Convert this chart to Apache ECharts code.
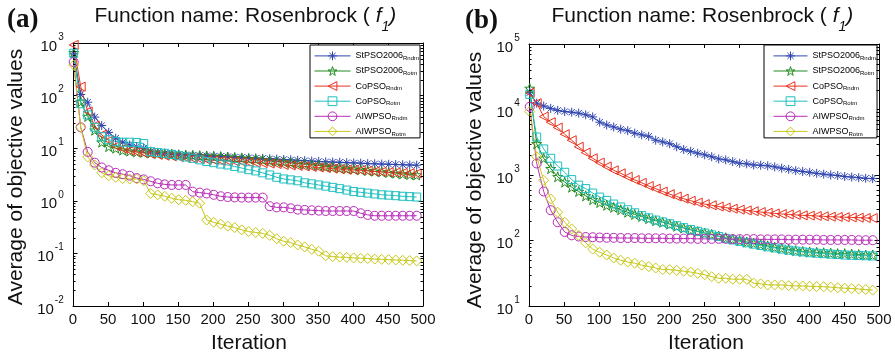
<!DOCTYPE html>
<html><head><meta charset="utf-8">
<script src="https://cdn.jsdelivr.net/npm/echarts@6/dist/echarts.min.js"></script>
<style>html,body{margin:0;padding:0;background:#fff}#c{width:895px;height:355px}</style>
</head><body><div id="c"></div>
<script>
// ---------- data ----------
const iterations = [1,11,21,31,41,51,61,71,81,91,101,111,121,131,141,151,161,171,181,191,201,211,221,231,241,251,261,271,281,291,301,311,321,331,341,351,361,371,381,391,401,411,421,431,441,451,461,471,481,491];
const seriesNames = ['StPSO2006 Rndm','StPSO2006 Rotm','CoPSO Rndm','CoPSO Rotm','AIWPSO Rndm','AIWPSO Rotm'];
const xTickValues = [0,50,100,150,200,250,300,350,400,450,500];

// panel (a)
const a_StPSO2006_Rndm = [620,105,75,39,27,20,15.5,13,11.5,10.7,10,8.8,8.3,8.0,7.8,7.6,7.5,7.4,7.3,7.2,7.1,7.0,6.9,6.8,6.7,6.6,6.5,6.4,6.3,6.2,6.1,6.0,5.9,5.8,5.7,5.6,5.5,5.45,5.4,5.3,5.25,5.2,5.1,5.05,5.0,4.95,4.9,4.85,4.8,4.75];
const a_StPSO2006_Rotm = [650,76,40,22,13,10.7,10,9.2,8.8,8.5,8.3,8.1,8.0,7.8,7.7,7.5,7.4,7.3,7.2,7.1,7.0,6.9,6.8,6.6,6.5,6.3,6.2,6.0,5.8,5.6,5.5,5.3,5.1,5.0,4.8,4.7,4.5,4.4,4.2,4.1,4.0,3.9,3.75,3.65,3.55,3.45,3.35,3.25,3.15,3.1];
const a_CoPSO_Rndm = [920,148,50,27,18,14,11,9.8,9.0,8.5,8.1,7.8,7.5,7.2,7.0,6.8,6.6,6.4,6.2,6.0,5.9,5.8,5.7,5.6,5.5,5.4,5.3,5.2,5.1,5.0,4.8,4.7,4.6,4.5,4.4,4.3,4.2,4.1,4.0,3.9,3.85,3.8,3.7,3.6,3.55,3.5,3.45,3.4,3.35,3.3];
const a_CoPSO_Rotm = [640,70,43,25,16.5,14.5,13.5,13,13,12.8,12.3,8.6,8.3,8.0,7.6,7.2,6.8,6.4,6.0,5.6,5.3,5.0,4.8,4.5,4.2,3.9,3.7,3.4,3.1,2.8,2.6,2.5,2.4,2.2,2.1,2.0,1.9,1.8,1.7,1.6,1.5,1.45,1.4,1.35,1.3,1.28,1.25,1.22,1.2,1.18];
const a_AIWPSO_Rndm = [435,25,8.5,5.3,4.3,3.8,3.4,3.2,3.0,2.7,2.55,2.35,2.15,2.05,2.0,2.0,2.0,1.49,1.43,1.38,1.3,1.22,1.18,1.16,1.15,1.15,1.15,1.15,0.79,0.75,0.75,0.72,0.68,0.67,0.66,0.65,0.64,0.64,0.64,0.64,0.64,0.58,0.54,0.52,0.52,0.52,0.52,0.52,0.52,0.52];
const a_AIWPSO_Rotm = [380,25,6.8,4.8,3.4,3.0,2.8,2.65,2.6,2.6,2.4,1.38,1.3,1.22,1.12,1.05,1.02,0.96,0.9,0.43,0.39,0.36,0.33,0.31,0.28,0.26,0.25,0.24,0.22,0.19,0.17,0.16,0.145,0.133,0.12,0.11,0.09,0.087,0.085,0.084,0.082,0.081,0.08,0.078,0.077,0.076,0.075,0.074,0.073,0.072];

// panel (b)
const b_StPSO2006_Rndm = [18000,12500,11300,10400,9700,9300,9100,8800,8300,7700,6400,5800,5400,5000,4750,4350,4100,3900,3400,3200,3000,2700,2450,2300,2150,2030,1900,1760,1700,1600,1510,1480,1420,1410,1380,1330,1270,1220,1170,1130,1100,1060,1030,1000,980,950,930,910,890,880];
const b_StPSO2006_Rotm = [21000,3000,1800,1250,940,780,650,560,480,420,380,345,320,295,270,250,232,215,200,190,178,165,155,145,137,130,124,117,110,105,100,95,91,87,83,79,76,73,70,68,67,66,65,64,63,63,62,61,60,60];
const b_CoPSO_Rndm = [18000,12500,7800,6400,5300,4200,3400,2700,2200,1800,1550,1350,1180,1060,940,840,760,680,620,560,510,470,435,405,380,360,345,330,318,306,296,288,280,272,265,259,254,250,246,242,240,237,234,231,229,227,225,223,221,220];
const b_CoPSO_Rotm = [17000,3800,2500,1800,1370,1100,850,700,620,530,460,410,360,325,295,265,240,222,205,192,180,168,157,147,138,130,122,115,108,102,97,92,88,84,80,77,74,71,69,67,65,64,63,62,61,60,59.5,59,58.5,58];
const b_AIWPSO_Rndm = [11000,1500,560,290,190,135,120,115,113,112,111,110,110,109,109,109,108,108,108,108,107,107,107,107,106,106,106,106,106,105,105,105,105,104,104,104,104,103,103,103,103,103,102,102,102,102,102,101,101,101];
const b_AIWPSO_Rotm = [9300,1900,830,430,270,190,150,120,92,74,66,60,54,50,47,45,42,40,38,36,36,35,34,33,31.5,30,28,26.5,26.5,25.6,25.6,25.6,22.3,21.8,21,21,21,20.5,20.3,20.2,20,19.8,19.7,19.4,19,18.7,18.5,18.2,17.8,17.5];

const panelA = [a_StPSO2006_Rndm, a_StPSO2006_Rotm, a_CoPSO_Rndm, a_CoPSO_Rotm, a_AIWPSO_Rndm, a_AIWPSO_Rotm];
const panelB = [b_StPSO2006_Rndm, b_StPSO2006_Rotm, b_CoPSO_Rndm, b_CoPSO_Rotm, b_AIWPSO_Rndm, b_AIWPSO_Rotm];

// ---------- styles ----------
const FONT = "'Liberation Sans', Arial, Helvetica, sans-serif";
const styles = [
  {color:'#2f45b0', symbol:'path://M0,-10L0,10M-10,0L10,0M-7,-7L7,7M-7,7L7,-7', size:9},
  {color:'#1f8a1f', symbol:'path://M0,-10L2.245,-3.09L9.511,-3.09L3.633,1.18L5.878,8.09L0,3.82L-5.878,8.09L-3.633,1.18L-9.511,-3.09L-2.245,-3.09Z', size:10},
  {color:'#e8321e', symbol:'path://M-9,0L9,-10L9,10Z', size:9},
  {color:'#1fbfbf', symbol:'path://M-10,-10L10,-10L10,10L-10,10Z', size:8},
  {color:'#b82cb8', symbol:'circle', size:9},
  {color:'#c8c81a', symbol:'path://M0,-10L10,0L0,10L-10,0Z', size:10}
];

function makeSeries(values, idx, xi, yi) {
  const st = styles[idx];
  return {
    type:'line', name: seriesNames[idx], xAxisIndex:xi, yAxisIndex:yi,
    data: iterations.map((it, i) => [it, values[i]]),
    symbol: st.symbol, symbolSize: st.size, showSymbol:true,
    lineStyle:{color:st.color, width:1},
    itemStyle:{color:'rgba(0,0,0,0)', borderColor:st.color, borderWidth:1},
    emphasis:{disabled:true}, animation:false, z:2
  };
}

function minorValues(lo, hi) {
  const out = [];
  for (let k = lo; k < hi; k++) for (let m = 2; m <= 9; m++) out.push([0, m * Math.pow(10, k)]);
  return out;
}
function minorTickSeries(xi, yi, lo, hi) {
  return {
    type:'custom', name:'minorTicks', xAxisIndex:xi, yAxisIndex:yi, silent:true, clip:false, z:5,
    data: minorValues(lo, hi), animation:false,
    renderItem: function (params, api) {
      const v = api.value(1);
      const p0 = api.coord([0, v]); const p1 = api.coord([500, v]);
      const s = {stroke:'#000', lineWidth:1};
      return {type:'group', children:[
        {type:'line', shape:{x1:p0[0], y1:Math.round(p0[1])+0.5, x2:p0[0]+2.5, y2:Math.round(p0[1])+0.5}, style:s},
        {type:'line', shape:{x1:p1[0]-2.5, y1:Math.round(p1[1])+0.5, x2:p1[0], y2:Math.round(p1[1])+0.5}, style:s}
      ]};
    }
  };
}

function xAxisDef(grid, pos) {
  return {
    type:'value', gridIndex:grid, position:pos, min:0, max:500, interval:50,
    axisLine:{show:true, onZero:false, lineStyle:{color:'#000', width:1}},
    axisTick:{show:true, inside:true, length:4, lineStyle:{color:'#000'}},
    axisLabel:{show: pos === 'bottom', fontSize:15, color:'#111', fontFamily:FONT, margin:6,
      customValues: xTickValues},
    splitLine:{show:false}
  };
}
function yAxisDef(grid, pos, min, max) {
  return {
    type:'log', logBase:10, gridIndex:grid, position:pos, min:min, max:max, splitNumber:5,
    axisLine:{show:true, onZero:false, lineStyle:{color:'#000', width:1}},
    axisTick:{show:true, inside:true, length:4.5, lineStyle:{color:'#000'}},
    axisLabel:{show: pos === 'left', margin:9, color:'#111', fontFamily:FONT,
      formatter: v => '{b|10}{e|' + Math.round(Math.log10(v)) + '}{z| }',
      rich:{
        b:{fontSize:15, lineHeight:19, verticalAlign:'bottom', fontFamily:FONT, color:'#111'},
        e:{fontSize:10, lineHeight:6, verticalAlign:'top', fontFamily:FONT, color:'#111', padding:[0,0,0,1]},
        z:{fontSize:1, lineHeight:22}
      }},
    splitLine:{show:false}, minorTick:{show:false}
  };
}

function legendDef(left, itemWidth, padLeft) {
  return {
    left:left, top:45, orient:'vertical', data:seriesNames,
    itemWidth:itemWidth, itemHeight:11, itemGap:4.7,
    padding:[6,1,1,padLeft],
    backgroundColor:'#fff', borderColor:'#000', borderWidth:1, borderRadius:0,
    selectedMode:false,
    itemStyle:{borderWidth:1}, lineStyle:{width:1},
    formatter: name => { const p = name.split(' '); return '{m|' + p[0] + '}{s|' + p[1] + '}'; },
    textStyle:{fontFamily:FONT, color:'#000', rich:{
      m:{fontSize:9, lineHeight:11, verticalAlign:'middle', fontFamily:FONT, color:'#000'},
      s:{fontSize:6, lineHeight:2, verticalAlign:'bottom', fontFamily:FONT, color:'#000'}
    }}
  };
}

const titleRich = {
  n:{fontSize:21, lineHeight:24, verticalAlign:'top', fontFamily:FONT, color:'#111'},
  f:{fontSize:21, lineHeight:24, verticalAlign:'top', fontStyle:'italic', fontFamily:FONT, color:'#111'},
  s:{fontSize:14, lineHeight:10, verticalAlign:'bottom', fontStyle:'italic', fontFamily:FONT, color:'#111'},
  z:{fontSize:1, lineHeight:28}
};
const titleText = '{n|Function name: Rosenbrock ( }{f|f}{s|1}{f|)}{z| }';

const series = [];
panelA.forEach((vals, i) => series.push(makeSeries(vals, i, 0, 0)));
panelB.forEach((vals, i) => series.push(makeSeries(vals, i, 2, 2)));
series.push(minorTickSeries(0, 0, -2, 3));
series.push(minorTickSeries(2, 2, 1, 5));

const panelLetterFont = "bold 27px 'Liberation Serif', 'Times New Roman', serif";
const option = {
  backgroundColor:'#fff',
  animation:false,
  grid:[
    {left:73, top:43, width:350, height:263},
    {left:529, top:44, width:350, height:262}
  ],
  xAxis:[xAxisDef(0,'bottom'), xAxisDef(0,'top'), xAxisDef(1,'bottom'), xAxisDef(1,'top')],
  yAxis:[yAxisDef(0,'left',0.01,1000), yAxisDef(0,'right',0.01,1000), yAxisDef(1,'left',10,100000), yAxisDef(1,'right',10,100000)],
  legend:[legendDef(310, 36, 4), legendDef(764, 34, 9)],
  series: series,
  graphic:[
    {type:'text', x:7, y:20, silent:true, z:10, style:{text:'(a)', font:panelLetterFont, fill:'#111', align:'left', verticalAlign:'middle'}},
    {type:'text', x:465, y:21, silent:true, z:10, style:{text:'(b)', font:panelLetterFont, fill:'#111', align:'left', verticalAlign:'middle'}},
    {type:'text', x:245.5, y:5.7, silent:true, z:10, style:{text:titleText, rich:titleRich, align:'center', verticalAlign:'top', fill:'#111'}},
    {type:'text', x:702.5, y:5.7, silent:true, z:10, style:{text:titleText, rich:titleRich, align:'center', verticalAlign:'top', fill:'#111'}},
    {type:'text', x:16, y:177, rotation:Math.PI/2, silent:true, z:10, style:{text:'Average of objective values', font:"21px " + FONT, fill:'#111', align:'center', verticalAlign:'middle'}},
    {type:'text', x:475, y:180, rotation:Math.PI/2, silent:true, z:10, style:{text:'Average of objective values', font:"21px " + FONT, fill:'#111', align:'center', verticalAlign:'middle'}},
    {type:'text', x:249, y:343, silent:true, z:10, style:{text:'Iteration', font:"21px " + FONT, fill:'#111', align:'center', verticalAlign:'middle'}},
    {type:'text', x:706, y:343, silent:true, z:10, style:{text:'Iteration', font:"21px " + FONT, fill:'#111', align:'center', verticalAlign:'middle'}}
  ]
};

const chart = echarts.init(document.getElementById('c'), null, {renderer:'canvas'});
chart.setOption(option);
</script>
</body></html>
